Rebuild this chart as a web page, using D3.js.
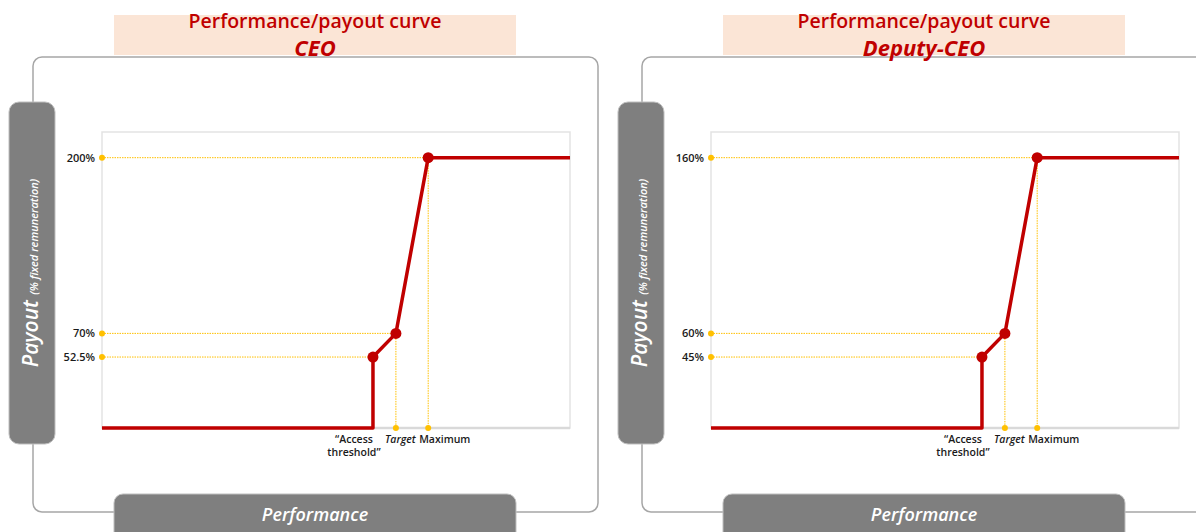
<!DOCTYPE html>
<html>
<head>
<meta charset="utf-8">
<script src="https://cdn.jsdelivr.net/npm/d3@7"></script>
<style>
  body { margin: 0; background: #ffffff; }
  svg { display: block; }
</style>
</head>
<body>
<div id="chart"></div>
<script>
// chart data
var panelNames = ["CEO", "Deputy-CEO"];
var pointLabels = ["threshold", "Target", "Maximum"];
var performance = [57.9, 62.8, 69.7];      // position on the performance axis (0-100)
var ceoPayout = [52.5, 70, 200];           // % fixed remuneration
var deputyPayout = [45, 60, 160];
var ceoTickLabels = ["52.5%", "70%", "200%"];
var deputyTickLabels = ["45%", "60%", "160%"];

var width = 1196, height = 532;
var panelOffset = 609;

var red = "#c00000", yellow = "#ffc000", grey = "#7f7f7f";

var svg = d3.select("#chart")
    .append("svg")
    .attr("width", width)
    .attr("height", height);

// scales shared by both panels
var x = d3.scaleLinear().domain([0, 100]).range([102, 570]);
var yCeo = d3.scaleLinear().domain([0, 219]).range([428, 132]);
// the Deputy-CEO curve is drawn on the same schematic shape as the CEO one
var yDeputy = d3.scaleLinear()
    .domain([0].concat(deputyPayout))
    .range([0].concat(ceoPayout).map(yCeo));

function drawPanel(i, payout, tickLabels, y) {
    var g = svg.append("g").attr("transform", "translate(" + i * panelOffset + ",0)");

    // outer frame
    g.append("rect")
        .attr("x", 33).attr("y", 57)
        .attr("width", 565).attr("height", 455)
        .attr("rx", 9)
        .style("fill", "none")
        .style("stroke", "#a6a6a6")
        .style("stroke-width", 1.5);

    // title box
    g.append("rect")
        .attr("x", 114).attr("y", 15)
        .attr("width", 402).attr("height", 40)
        .style("fill", "#fbe5d6");
    g.append("text")
        .attr("x", 315).attr("y", 27.5)
        .attr("text-anchor", "middle")
        .style("font-family", "Open Sans")
        .style("font-weight", 600)
        .style("font-size", "19.5px")
        .style("fill", red)
        .text("Performance/payout curve");
    g.append("text")
        .attr("x", 315).attr("y", 56)
        .attr("text-anchor", "middle")
        .style("font-family", "Open Sans")
        .style("font-weight", 700)
        .style("font-style", "italic")
        .style("font-size", "22px")
        .style("fill", red)
        .text(panelNames[i]);

    // y axis bar
    g.append("rect")
        .attr("x", 9).attr("y", 102)
        .attr("width", 46).attr("height", 342)
        .attr("rx", 10)
        .style("fill", grey)
        .style("stroke", "#bfbfbf");
    var yt = g.append("text")
        .attr("transform", "translate(38,273) rotate(-90)")
        .attr("text-anchor", "middle")
        .style("font-family", "Open Sans")
        .style("font-style", "italic")
        .style("fill", "#ffffff");
    yt.append("tspan").style("font-size", "21px").style("font-weight", 600).text("Payout ");
    yt.append("tspan").style("font-size", "11px").style("font-weight", 600).text(" (% fixed remuneration)");

    // x axis bar
    g.append("rect")
        .attr("x", 114).attr("y", 494)
        .attr("width", 402).attr("height", 50)
        .attr("rx", 9)
        .style("fill", grey)
        .style("stroke", "#bfbfbf");
    g.append("text")
        .attr("x", 315).attr("y", 521)
        .attr("text-anchor", "middle")
        .style("font-family", "Open Sans")
        .style("font-style", "italic")
        .style("font-weight", 600)
        .style("font-size", "18px")
        .style("fill", "#ffffff")
        .text("Performance");

    // plot area
    g.append("rect")
        .attr("x", x.range()[0]).attr("y", 132)
        .attr("width", x.range()[1] - x.range()[0])
        .attr("height", y(0) - 132)
        .style("fill", "none")
        .style("stroke", "#e3e3e3")
        .style("stroke-width", 1.5);
    g.append("line")
        .attr("x1", x(0)).attr("x2", x(100))
        .attr("y1", y(0)).attr("y2", y(0))
        .style("stroke", "#d9d9d9")
        .style("stroke-width", 2.5);

    // yellow guide lines
    var pts = performance.map(function (p, k) { return { p: p, v: payout[k], k: k }; });
    g.selectAll(".hguide")
        .data(pts)
        .enter()
        .append("line")
        .attr("x1", x(0)).attr("x2", function (d) { return x(d.p); })
        .attr("y1", function (d) { return y(d.v); })
        .attr("y2", function (d) { return y(d.v); })
        .style("stroke", yellow)
        .style("stroke-width", 1)
        .style("stroke-dasharray", "1.5,1");
    g.selectAll(".vguide")
        .data(pts.slice(1))
        .enter()
        .append("line")
        .attr("x1", function (d) { return x(d.p); })
        .attr("x2", function (d) { return x(d.p); })
        .attr("y1", function (d) { return y(d.v); })
        .attr("y2", y(0))
        .style("stroke", yellow)
        .style("stroke-width", 1)
        .style("stroke-dasharray", "1.5,1");
    g.selectAll(".ydot")
        .data(pts)
        .enter()
        .append("circle")
        .attr("cx", x(0))
        .attr("cy", function (d) { return y(d.v); })
        .attr("r", 3)
        .style("fill", yellow);
    g.selectAll(".xdot")
        .data(pts.slice(1))
        .enter()
        .append("circle")
        .attr("cx", function (d) { return x(d.p); })
        .attr("cy", y(0))
        .attr("r", 3)
        .style("fill", yellow);

    // y tick labels
    g.selectAll(".ylab")
        .data(pts)
        .enter()
        .append("text")
        .attr("x", 95)
        .attr("y", function (d) { return y(d.v) + 4; })
        .attr("text-anchor", "end")
        .style("font-family", "Open Sans")
        .style("font-weight", 600)
        .style("font-size", "11px")
        .style("fill", "#1a1a1a")
        .text(function (d) { return tickLabels[d.k]; });

    // x labels
    var lab = { "font-family": "Open Sans", "font-weight": 600, "font-size": "10.5px", "fill": "#1a1a1a" };
    var thr = g.append("text")
        .attr("x", x(performance[0]) - 19)
        .attr("y", 443)
        .attr("text-anchor", "middle");
    thr.append("tspan").attr("x", x(performance[0]) - 19).text("\u201cAccess");
    thr.append("tspan").attr("x", x(performance[0]) - 19).attr("dy", 13).text(pointLabels[0] + "\u201d");
    var tg = g.append("text")
        .attr("x", x(performance[1]) - 11)
        .attr("y", 443)
        .style("font-style", "italic")
        .text(pointLabels[1]);
    var mx = g.append("text")
        .attr("x", x(performance[2]) - 9)
        .attr("y", 443)
        .text(pointLabels[2]);
    [thr, tg, mx].forEach(function (t) {
        for (var key in lab) t.style(key, lab[key]);
    });

    // payout curve
    var curve = [[0, 0], [performance[0], 0]]
        .concat(pts.map(function (d) { return [d.p, d.v]; }))
        .concat([[100, payout[2]]]);
    var line = d3.line()
        .x(function (d) { return x(d[0]); })
        .y(function (d) { return y(d[1]); });
    g.append("path")
        .datum(curve)
        .attr("d", line)
        .style("fill", "none")
        .style("stroke", red)
        .style("stroke-width", 3.5)
        .style("stroke-linejoin", "round");
    g.selectAll(".pt")
        .data(pts)
        .enter()
        .append("circle")
        .attr("cx", function (d) { return x(d.p); })
        .attr("cy", function (d) { return y(d.v); })
        .attr("r", 5.5)
        .style("fill", red);
}

drawPanel(0, ceoPayout, ceoTickLabels, yCeo);
drawPanel(1, deputyPayout, deputyTickLabels, yDeputy);
</script>
</body>
</html>
